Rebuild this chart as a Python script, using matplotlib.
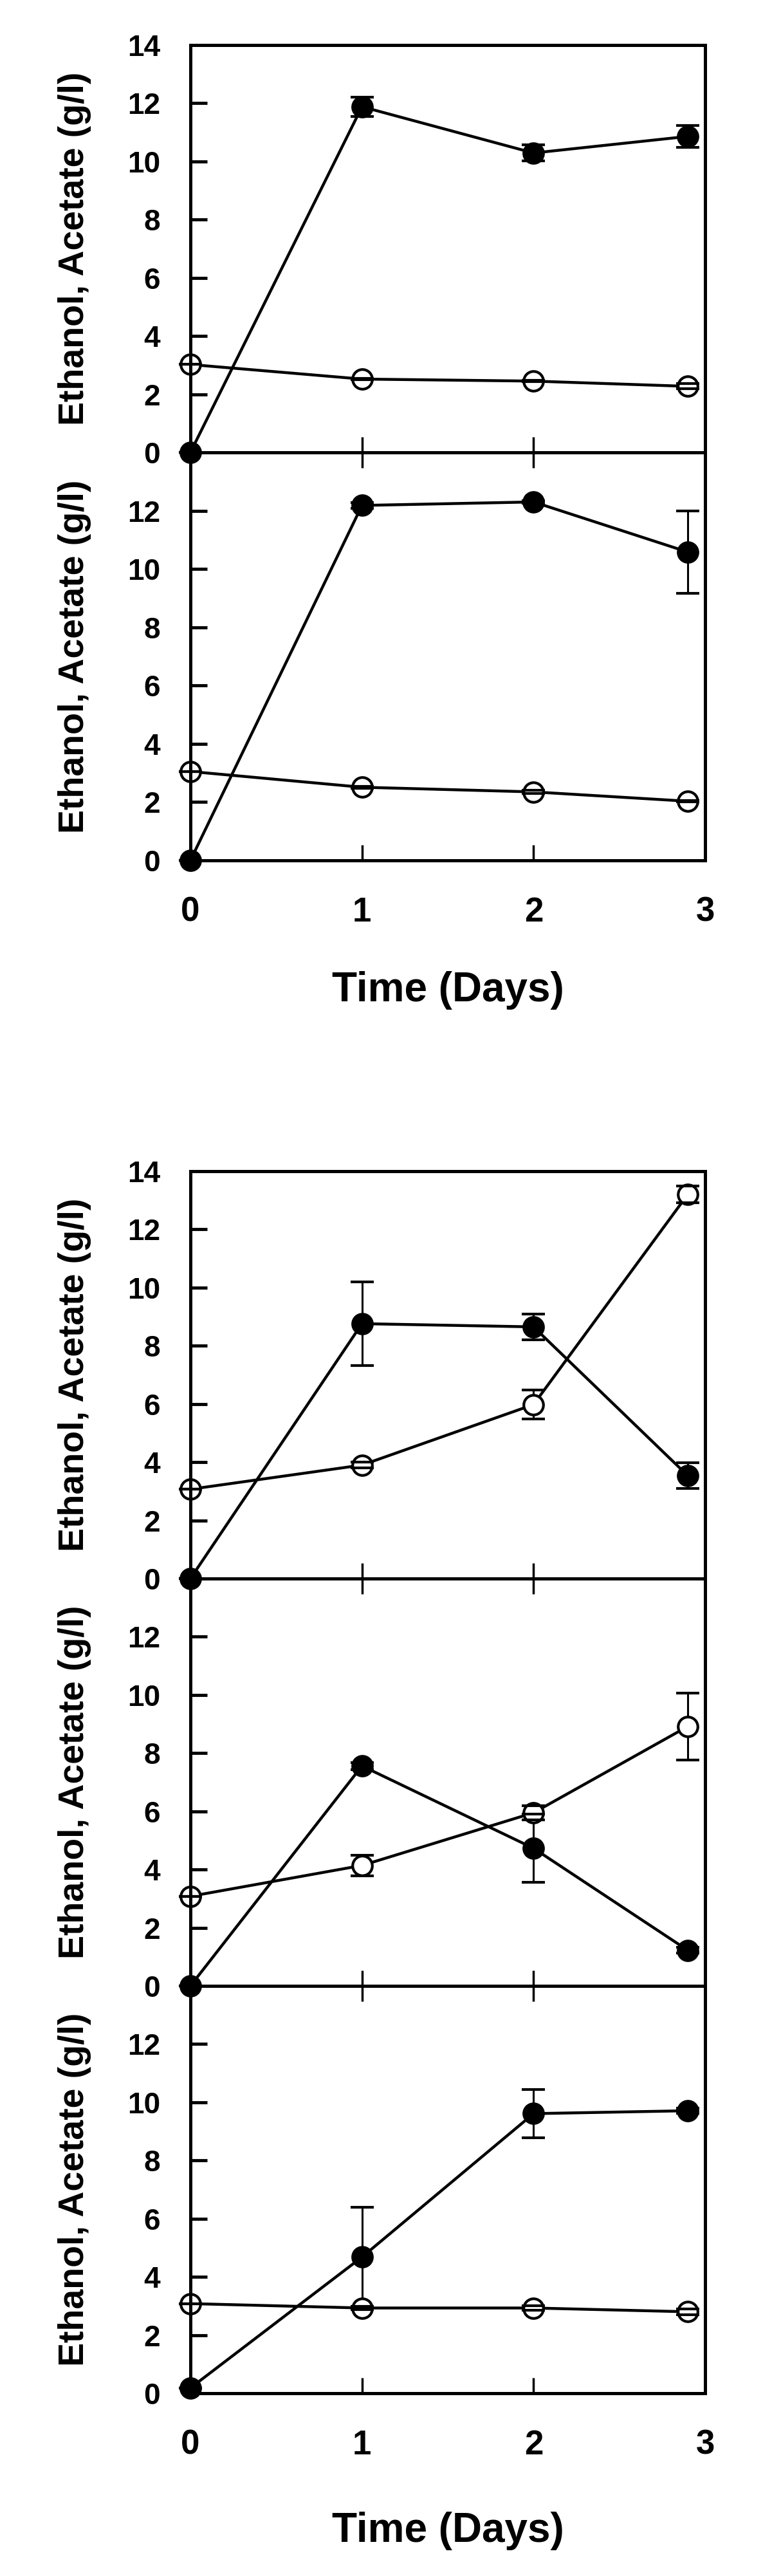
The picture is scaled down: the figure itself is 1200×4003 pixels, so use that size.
#!/usr/bin/env python3
'''ethanol and acetate over time, two stacked groups of panels'''
import matplotlib
matplotlib.use('Agg')
import matplotlib.pyplot as plt

days = [0, 1, 2, 2.9]
day_ticks = [0, 1, 2, 3]

# filled circles / open circles, one pair per panel, with error bars
filled_1 = [0, 11.88, 10.29, 10.86]
filled_1_err = [0, 0.33, 0.28, 0.37]
open_1 = [3.02, 2.52, 2.45, 2.27]
open_1_err = [0, 0.02, 0.02, 0.09]

filled_2 = [0, 12.18, 12.30, 10.58]
filled_2_err = [0, 0.1, 0.05, 1.42]
open_2 = [3.05, 2.51, 2.35, 2.03]
open_2_err = [0, 0.03, 0.06, 0.03]

filled_3 = [0, 8.76, 8.65, 3.53]
filled_3_err = [0, 1.43, 0.45, 0.44]
open_3 = [3.07, 3.90, 5.98, 13.21]
open_3_err = [0, 0.1, 0.5, 0.29]

filled_4 = [0, 7.56, 4.73, 1.22]
filled_4_err = [0, 0.12, 1.17, 0.1]
open_4 = [3.08, 4.14, 5.95, 8.92]
open_4_err = [0, 0.35, 0.25, 1.15]

filled_5 = [0.18, 4.68, 9.61, 9.71]
filled_5_err = [0, 1.71, 0.83, 0.08]
open_5 = [3.08, 2.93, 2.93, 2.80]
open_5_err = [0, 0.05, 0.08, 0.1]

y_label = 'Ethanol, Acetate (g/l)'
x_label = 'Time (Days)'

plt.rcParams['font.family'] = ['Liberation Sans', 'DejaVu Sans']
plt.rcParams['font.weight'] = 'bold'

FIG_W, FIG_H = 1200, 4003
LEFT, RIGHT = 296, 1096


def series(ax, y, err, face):
    '''line, error bars, markers and caps in that order'''
    ax.plot(days, y, '-', color='black', lw=3.2, zorder=2, clip_on=False)
    _, caps, bars = ax.errorbar(days, y, yerr=err, fmt='none',
                                ecolor='black', elinewidth=2.2,
                                capsize=13, capthick=3, clip_on=False)
    for b in bars:
        b.set_zorder(2.2)
    for c in caps:
        c.set_zorder(4)
    ax.plot(days, y, 'o', ms=22, mfc=face, mec='black', mew=3,
            zorder=3, clip_on=False)


def panel(fig, top, bottom, filled, filled_err, opn, opn_err,
          first, xlab_drop=None):
    '''one panel placed by its pixel edges'''
    last = xlab_drop is not None
    ax = fig.add_axes([LEFT / FIG_W, 1 - bottom / FIG_H,
                       (RIGHT - LEFT) / FIG_W, (bottom - top) / FIG_H])
    ax.patch.set_visible(False)
    series(ax, filled, filled_err, 'black')
    series(ax, opn, opn_err, 'white')

    ax.set_xlim(0, 3)
    ax.set_ylim(0, 14)
    ax.set_xticks(day_ticks)
    ax.set_yticks(range(0, 15 if first else 13, 2))
    ax.tick_params(axis='x', direction='in', length=17, width=2.5,
                   top=not first, bottom=True, labelbottom=last,
                   labelsize=38, pad=40)
    ax.tick_params(axis='y', direction='in', length=18.5, width=3.5,
                   labelsize=33, pad=34)
    for s in ax.spines.values():
        s.set_linewidth(3.6)
        s.set_zorder(5)

    ax.set_ylabel(y_label, fontsize=40, fontweight='bold')
    ax.yaxis.set_label_coords(-(LEFT - 142) / (RIGHT - LEFT), 0.5)
    if last:
        ax.set_xlabel(x_label, fontsize=46, fontweight='bold')
        ax.xaxis.set_label_coords(0.5, -xlab_drop / (bottom - top))
    return ax


def main():
    fig = plt.figure(figsize=(FIG_W / 100, FIG_H / 100), dpi=100)

    panel(fig, 70, 703, filled_1, filled_1_err, open_1, open_1_err, True)
    panel(fig, 703, 1337, filled_2, filled_2_err, open_2, open_2_err,
          False, 172)

    panel(fig, 1820, 2453, filled_3, filled_3_err, open_3, open_3_err,
          True)
    panel(fig, 2453, 3086, filled_4, filled_4_err, open_4, open_4_err,
          False)
    panel(fig, 3086, 3719, filled_5, filled_5_err, open_5, open_5_err,
          False, 184)

    fig.savefig('out.png', dpi=100, facecolor='white')


main()
